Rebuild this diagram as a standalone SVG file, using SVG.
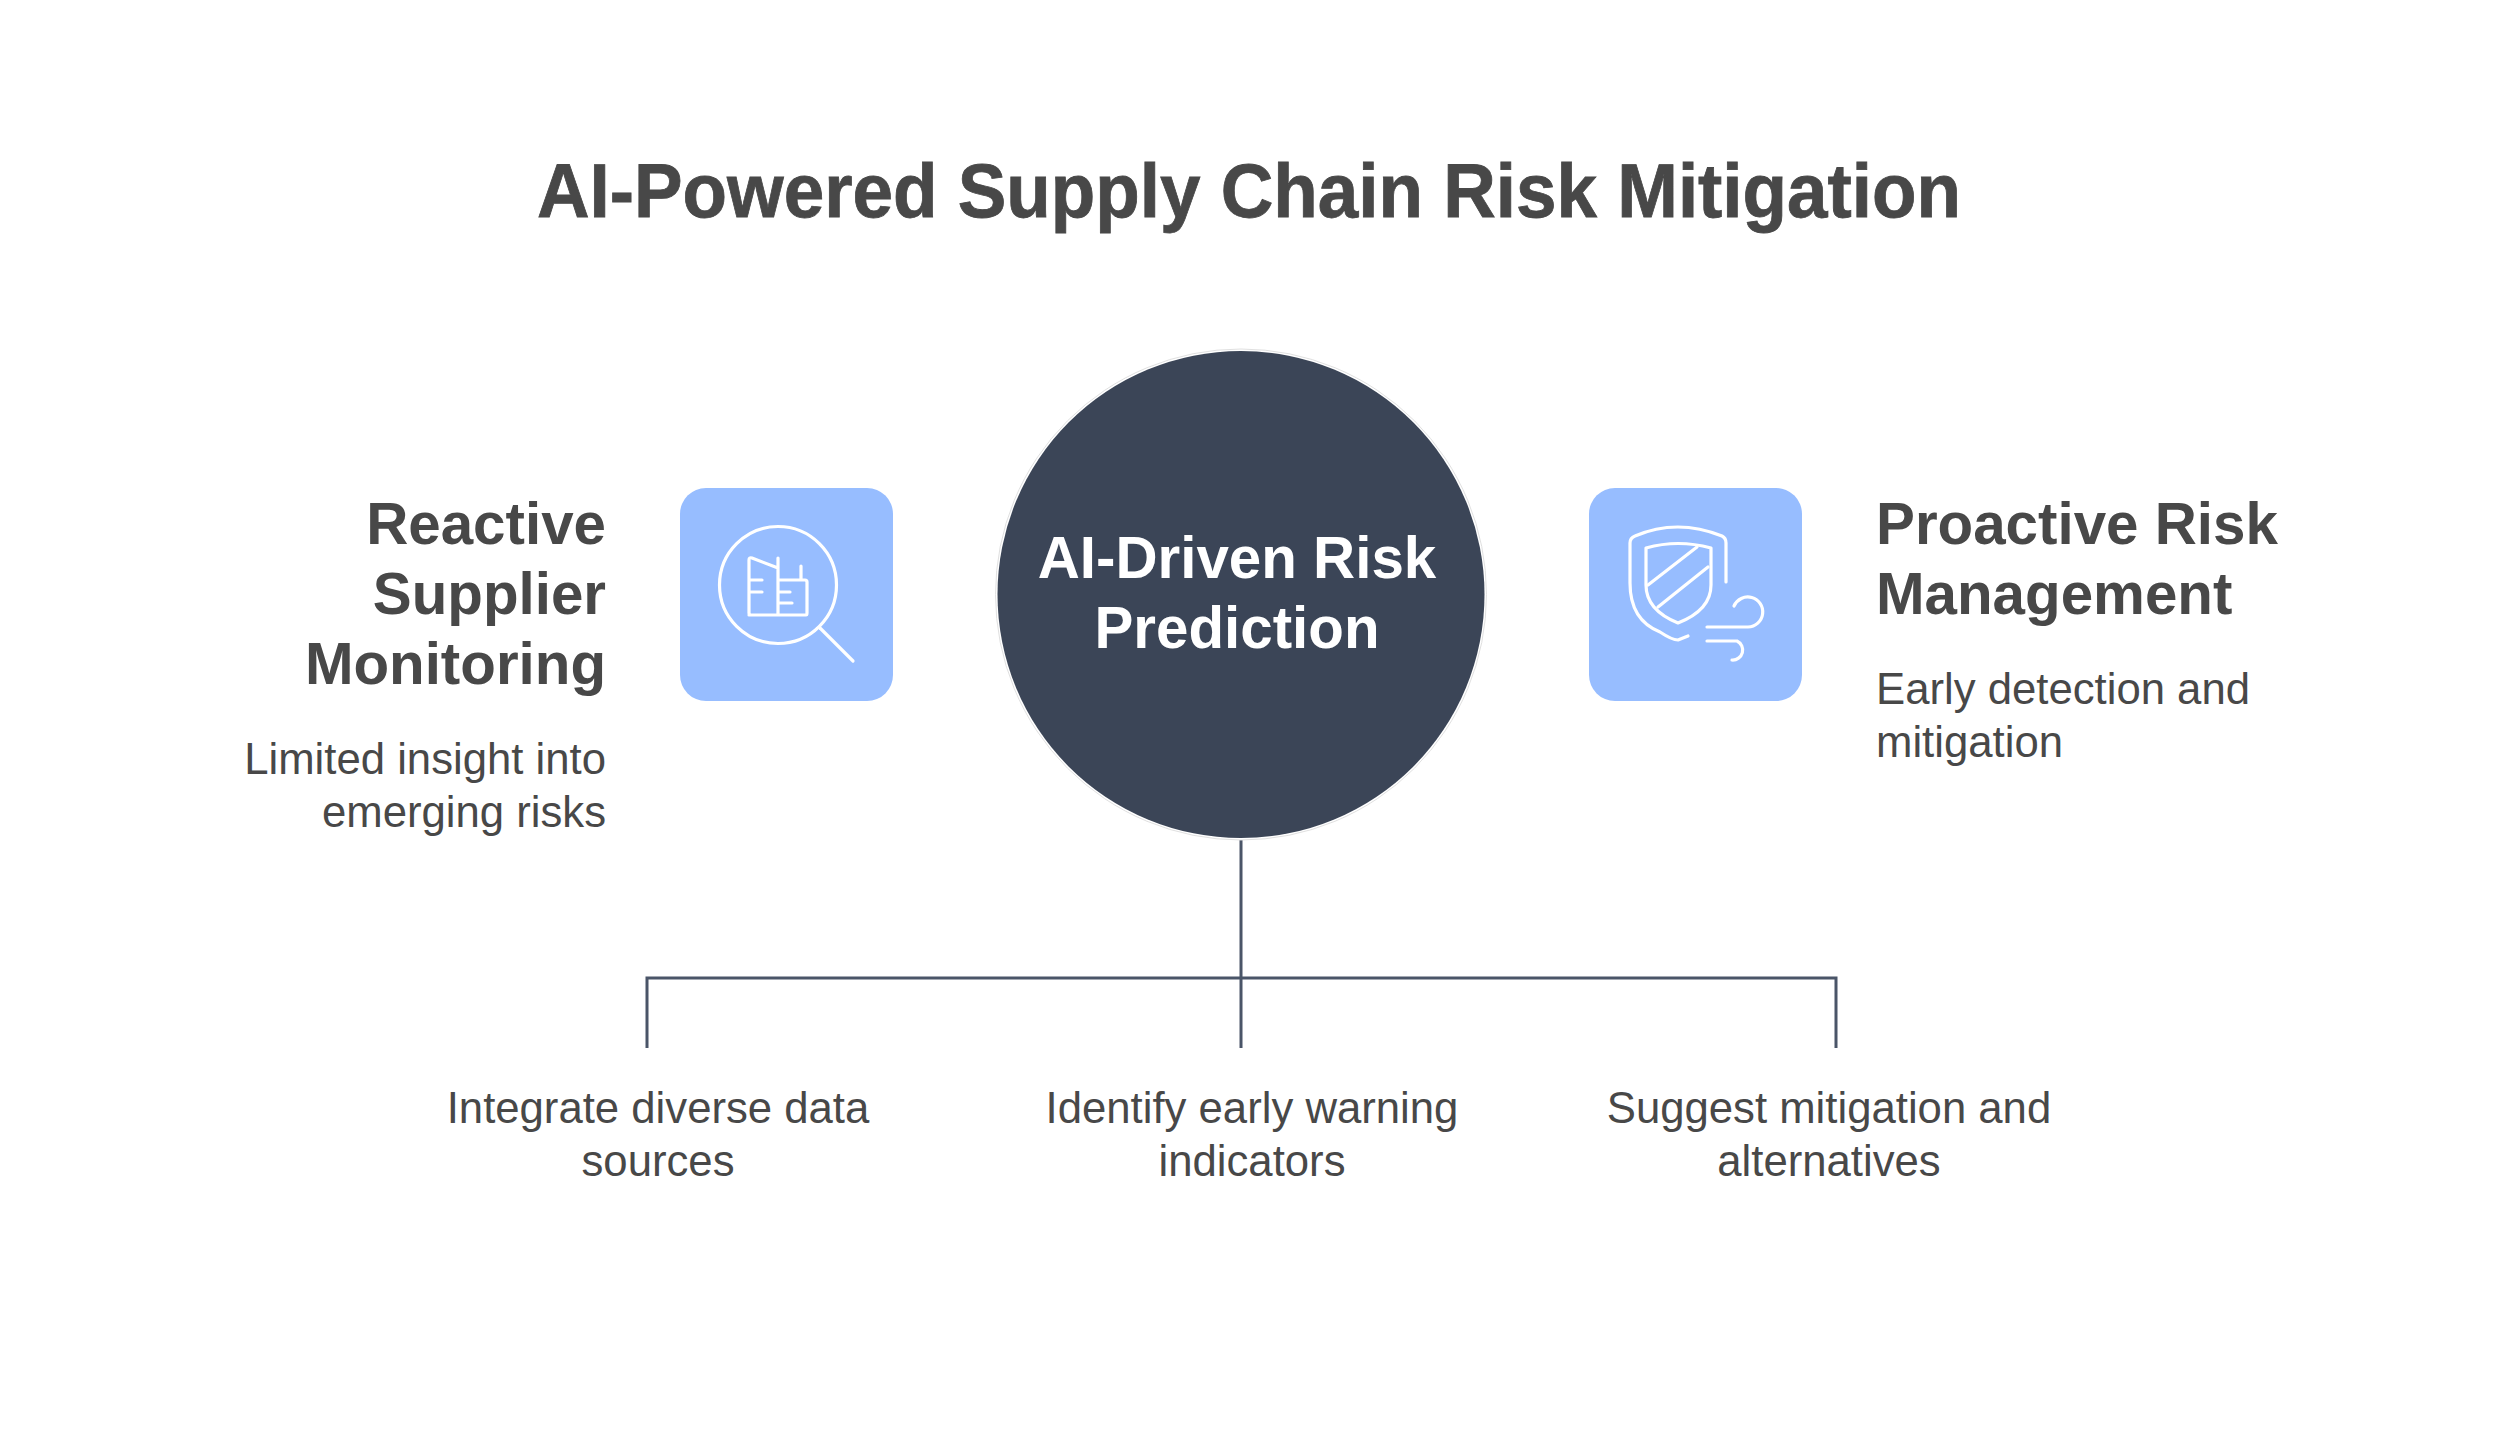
<svg xmlns="http://www.w3.org/2000/svg" width="2500" height="1434" viewBox="0 0 2500 1434">
<style>
text{font-family:"Liberation Sans",Arial,sans-serif;fill:#484848}
.title{font-size:76px;font-weight:700;stroke:#484848;stroke-width:.8}
.head{font-size:58.3px;font-weight:700}
.body{font-size:43.7px}
.end{text-anchor:end}
.mid{text-anchor:middle}
.tile{fill:#97bdff}
.ico{fill:none;stroke:#fff;stroke-width:3.2;stroke-linecap:round;stroke-linejoin:round}
.conn{fill:none;stroke:#4a5568;stroke-width:3}
</style>
<rect width="2500" height="1434" fill="#fff"/>
<text id="title" class="title" x="537" y="217" textLength="1424" lengthAdjust="spacingAndGlyphs">AI-Powered Supply Chain Risk Mitigation</text>
<g id="connectors">
<path class="conn" d="M1241 840V1048M647 1048V978H1836V1048"/>
</g>
<g id="center-node">
<circle cx="1241" cy="594.5" r="245.5" fill="none" stroke="#e0e0e0" stroke-width="1"/>
<circle cx="1241" cy="594.5" r="243.5" fill="#3b4557"/>
<text x="1237" y="578" class="head mid" style="fill:#fff">AI-Driven Risk</text>
<text x="1237" y="648" class="head mid" style="fill:#fff">Prediction</text>
</g>
<g id="reactive-node">
<text x="606" y="544" class="head end">Reactive</text>
<text x="606" y="614" class="head end">Supplier</text>
<text x="606" y="684" class="head end">Monitoring</text>
<text x="606" y="774" class="body end">Limited insight into</text>
<text x="606" y="827" class="body end">emerging risks</text>
</g>
<g id="reactive-icon">
<rect class="tile" x="680" y="488" width="213" height="213" rx="26"/>
<g class="ico">
<circle cx="778" cy="585" r="58.5"/>
<path d="M820 628L853 661"/>
<path d="M778 558V615M749 615H806Q807 615 807 613V582Q807 580 805 580H778M801 566V580M778 568L752 558Q749 557 749 560V613Q749 615 751 615M749 580H762M749 592H762M778 592H790M778 603H792"/>
</g>
</g>
<g id="proactive-icon">
<rect class="tile" x="1589" y="488" width="213" height="213" rx="26"/>
<g class="ico">
<path d="M1726 582V543Q1726 538 1722 536Q1677 518 1635 536Q1630 538 1630 543V583Q1630 620 1660 632Q1672 640 1678 640L1688 636"/>
<path d="M1646 548Q1678 539 1711 548V585Q1711 610 1678 623Q1646 610 1646 585Z"/>
<path d="M1648 585L1697 547M1658 607L1708 567"/>
<path d="M1734 606A15 15 0 1 1 1748 627H1707"/>
<path d="M1707 641H1737A10 10 0 0 1 1732 660"/>
</g>
</g>
<g id="proactive-node">
<text x="1876" y="544" class="head">Proactive Risk</text>
<text x="1876" y="614" class="head">Management</text>
<text x="1876" y="704" class="body">Early detection and</text>
<text x="1876" y="757" class="body">mitigation</text>
</g>
<g id="item-1">
<text x="658" y="1123" class="body mid">Integrate diverse data</text>
<text x="658" y="1176" class="body mid">sources</text>
</g>
<g id="item-2">
<text x="1252" y="1123" class="body mid">Identify early warning</text>
<text x="1252" y="1176" class="body mid">indicators</text>
</g>
<g id="item-3">
<text x="1829" y="1123" class="body mid">Suggest mitigation and</text>
<text x="1829" y="1176" class="body mid">alternatives</text>
</g>
</svg>
